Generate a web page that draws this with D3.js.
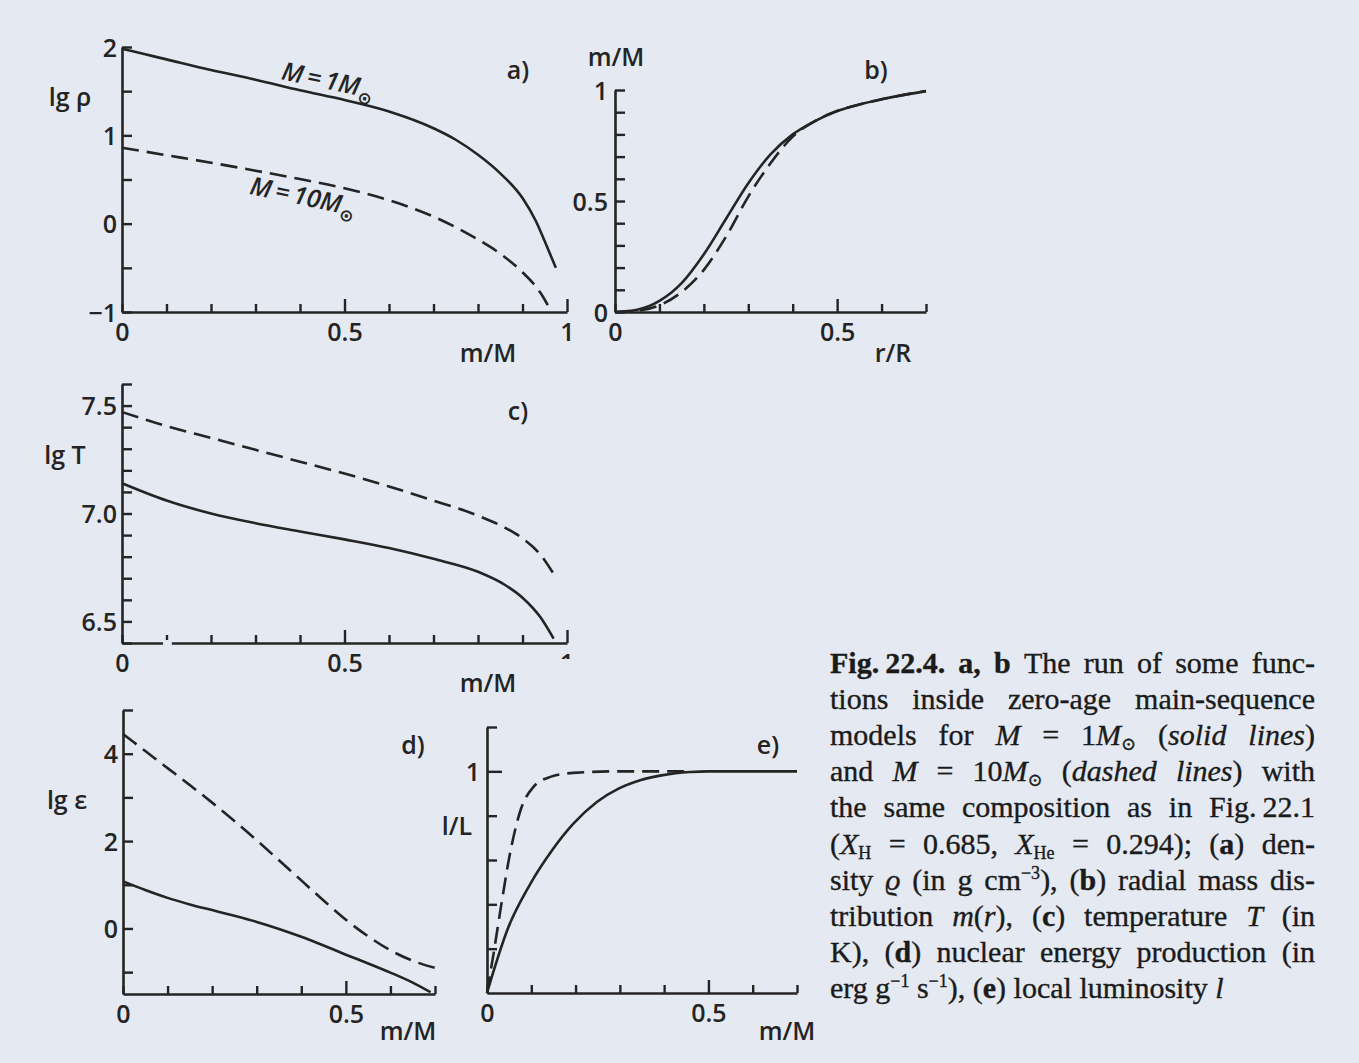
<!DOCTYPE html>
<html>
<head>
<meta charset="utf-8">
<script src="https://cdn.jsdelivr.net/npm/d3@7"></script>
<style>
  html, body { margin: 0; padding: 0; background: #e4e9f2; }
  svg { display: block; }
</style>
</head>
<body>
<svg id="fig" width="1359" height="1063"></svg>
<script>
// ---------- (a) density lg ρ against m/M ----------
const mRhoSun = [0, 0.05, 0.1, 0.2, 0.3, 0.4, 0.5, 0.6, 0.7, 0.75, 0.8, 0.85, 0.9, 0.93, 0.95, 0.975];
const lgRhoSun = [1.98, 1.92, 1.86, 1.74, 1.63, 1.51, 1.4, 1.27, 1.08, 0.95, 0.78, 0.57, 0.29, 0.03, -0.2, -0.5];
const mRhoTen = [0, 0.1, 0.2, 0.3, 0.4, 0.5, 0.6, 0.7, 0.8, 0.85, 0.9, 0.94, 0.965];
const lgRhoTen = [0.86, 0.775, 0.69, 0.6, 0.505, 0.4, 0.265, 0.08, -0.18, -0.34, -0.55, -0.78, -1.0];

// ---------- (b) m/M against r/R ----------
const rR = [0, 0.05, 0.1, 0.15, 0.2, 0.25, 0.3, 0.35, 0.4, 0.45, 0.5, 0.55, 0.6, 0.65, 0.7];
const mrSun = [0, 0.01, 0.05, 0.13, 0.26, 0.42, 0.58, 0.71, 0.8, 0.86, 0.905, 0.935, 0.958, 0.978, 0.995];
const mrTen = [0, 0.005, 0.03, 0.09, 0.19, 0.34, 0.52, 0.67, 0.79, 0.86, 0.905, 0.935, 0.958, 0.978, 0.995];

// ---------- (c) temperature lg T against m/M ----------
const mT = [0, 0.1, 0.2, 0.3, 0.4, 0.5, 0.6, 0.7, 0.8, 0.86, 0.9, 0.94, 0.97];
const lgTSun = [7.14, 7.06, 7.0, 6.955, 6.917, 6.88, 6.84, 6.79, 6.73, 6.67, 6.61, 6.52, 6.42];
const lgTTen = [7.47, 7.405, 7.35, 7.295, 7.24, 7.185, 7.125, 7.06, 6.99, 6.935, 6.885, 6.81, 6.72];

// ---------- (d) energy production lg ε against m/M ----------
const mEpsSun = [0, 0.05, 0.1, 0.15, 0.2, 0.25, 0.3, 0.35, 0.4, 0.45, 0.5, 0.55, 0.6, 0.65, 0.69];
const lgEpsSun = [1.08, 0.88, 0.7, 0.55, 0.42, 0.29, 0.15, -0.01, -0.19, -0.39, -0.6, -0.8, -1.01, -1.24, -1.46];
const mEpsTen = [0, 0.05, 0.1, 0.15, 0.2, 0.25, 0.3, 0.35, 0.4, 0.45, 0.5, 0.55, 0.6, 0.65, 0.7];
const lgEpsTen = [4.45, 4.06, 3.67, 3.28, 2.88, 2.46, 2.02, 1.56, 1.1, 0.64, 0.2, -0.18, -0.5, -0.74, -0.9];

// ---------- (e) local luminosity l/L against m/M ----------
const mLSun = [0, 0.015, 0.045, 0.096, 0.147, 0.195, 0.248, 0.297, 0.346, 0.397, 0.459, 0.5, 0.7];
const lLSun = [0, 0.1, 0.28, 0.486, 0.644, 0.764, 0.862, 0.922, 0.96, 0.983, 0.997, 1.0, 1.0];
const mLTen = [0, 0.015, 0.034, 0.053, 0.075, 0.105, 0.143, 0.195, 0.3, 0.45];
const lLTen = [0, 0.18, 0.42, 0.64, 0.82, 0.93, 0.975, 0.993, 1.0, 1.0];

// ---------- tick values and labels ----------
const ticksTenth = d3.range(0, 11).map(i => i / 10);
const ticksTenthShort = d3.range(0, 8).map(i => i / 10);
const rhoTicks = [-1, -0.5, 0, 0.5, 1, 1.5, 2];
const rhoLabels = [[-1, "−1"], [0, "0"], [1, "1"], [2, "2"]];
const mrTicks = d3.range(0, 11).map(i => i / 10);
const mrLabels = [[0, "0"], [0.5, "0.5"], [1, "1"]];
const tTicks = d3.range(64, 77).map(i => i / 10);
const tLabels = [[6.5, "6.5"], [7.0, "7.0"], [7.5, "7.5"]];
const epsTicks = [-1, 0, 1, 2, 3, 4, 5];
const epsLabels = [[0, "0"], [2, "2"], [4, "4"]];
const lumTicks = [0.2, 0.4, 0.6, 0.8, 1.0, 1.2];
const lumLabels = [[0, "0"], [1, "1"]];
const massLabelsFull = [[0, "0"], [0.5, "0.5"], [1, "1"]];
const massLabelsShort = [[0, "0"], [0.5, "0.5"]];

// ---------- caption ----------
const captionLines = [
  "{b:Fig.\u200922.4. a, b} The run of some func-",
  "tions inside zero-age main-sequence",
  "models for {i:M} = 1{i:M}{sub:⊙} ({i:solid lines})",
  "and {i:M} = 10{i:M}{sub:⊙} ({i:dashed lines}) with",
  "the same composition as in Fig.\u200922.1",
  "({i:X}{sub:H} = 0.685, {i:X}{sub:He} = 0.294); ({b:a}) den-",
  "sity {i:ϱ} (in g cm{sup:−3}), ({b:b}) radial mass dis-",
  "tribution {i:m}({i:r}), ({b:c}) temperature {i:T} (in",
  "K), ({b:d}) nuclear energy production (in",
  "erg g{sup:−1} s{sup:−1}), ({b:e}) local luminosity {i:l}"
];

// ---------- drawing ----------
const INK = "#242424";
const BG = "#e4e9f2";
const FONT = "'Open Sans', 'DejaVu Sans', sans-serif";
const SERIF = "'Liberation Serif', 'DejaVu Serif', serif";
const DASH = "17,8";

const svg = d3.select("#fig");
svg.append("rect").attr("width", 1359).attr("height", 1063).attr("fill", BG);
const defs = svg.append("defs");

const near = (a, b) => Math.abs(a - b) < 1e-9;
const lookup = (pairs, v) => { const p = pairs.find(q => near(q[0], v)); return p ? p[1] : ""; };

function drawAxes(g, x, y, cfg) {
  const xa = g.append("g").attr("transform", `translate(0,${y.range()[0]})`)
    .call(d3.axisBottom(x).tickValues(cfg.xTicks).tickSizeInner(-8).tickSizeOuter(0)
      .tickPadding(11).tickFormat(v => lookup(cfg.xLabels, v)));
  xa.selectAll(".tick line").filter(v => cfg.xMajor.some(m => near(m, v))).attr("y2", -13);

  const ya = g.append("g").attr("transform", `translate(${x.range()[0]},0)`)
    .call(d3.axisLeft(y).tickValues(cfg.yTicks).tickSizeInner(-10).tickSizeOuter(0)
      .tickPadding(cfg.yPad || 6).tickFormat(v => lookup(cfg.yLabels, v)));
  if (cfg.yMajor) ya.selectAll(".tick line").filter(v => cfg.yMajor.some(m => near(m, v))).attr("x2", 15);

  [xa, ya].forEach(a => {
    a.attr("color", INK).attr("font-family", null).attr("font-size", null);
    a.select(".domain").attr("stroke-width", 2.6);
    a.selectAll(".tick line").attr("stroke-width", 2.4);
    a.selectAll(".tick text").style("font-family", FONT).style("font-size", "25px")
      .style("font-weight", 600).attr("fill", INK);
  });
  ya.selectAll(".tick text").attr("dy", "0.36em");
  return { xa, ya };
}

function drawCurve(g, x, y, xs, ys, dashed) {
  const pts = xs.map((v, i) => [v, ys[i]]);
  g.append("path").datum(pts)
    .attr("d", d3.line().x(d => x(d[0])).y(d => y(d[1])).curve(d3.curveMonotoneX))
    .attr("fill", "none").attr("stroke", INK).attr("stroke-width", 2.6)
    .attr("stroke-dasharray", dashed ? DASH : null);
}

function label(g, px, py, txt, opts = {}) {
  return g.append("text").attr("x", px).attr("y", py).attr("dy", "0.36em")
    .attr("text-anchor", opts.anchor || "middle").attr("fill", INK)
    .style("font-family", FONT).style("font-size", (opts.size || 25) + "px").style("font-weight", 600)
    .text(txt);
}

function massLabel(g, cx, cy, angle, main) {
  const t = g.append("text").attr("transform", `translate(${cx},${cy}) rotate(${angle})`)
    .attr("text-anchor", "middle").attr("dy", "0.36em").attr("fill", INK)
    .style("font-family", FONT).style("font-size", "25px").style("font-weight", 600)
    .style("font-style", "italic");
  t.append("tspan").text(main);
  t.append("tspan").attr("dy", 7).style("font-size", "17px").style("font-style", "normal").text("⊙");
}

// (a)
{
  const g = svg.append("g");
  const x = d3.scaleLinear([0, 1], [122, 567]);
  const y = d3.scaleLinear([-1, 2], [312, 47]);
  drawAxes(g, x, y, { xTicks: ticksTenth, xLabels: massLabelsFull, xMajor: [0.5, 1],
    yTicks: rhoTicks, yLabels: rhoLabels, yPad: 5 });
  drawCurve(g, x, y, mRhoSun, lgRhoSun, false);
  drawCurve(g, x, y, mRhoTen, lgRhoTen, true);
  label(g, 70, 97, "lg ρ");
  label(g, 518, 70, "a)");
  label(g, 488, 353, "m/M");
  massLabel(g, 328, 80, 12, "M\u2009=\u20091M");
  massLabel(g, 303, 196, 12, "M\u2009=\u200910M");
}

// (b)
{
  const g = svg.append("g");
  const x = d3.scaleLinear([0, 0.7], [615, 926]);
  const y = d3.scaleLinear([0, 1], [312, 90]);
  drawAxes(g, x, y, { xTicks: ticksTenthShort, xLabels: massLabelsShort, xMajor: [0.5],
    yTicks: mrTicks, yLabels: mrLabels, yPad: 7 });
  drawCurve(g, x, y, rR, mrSun, false);
  drawCurve(g, x, y, rR, mrTen, true);
  label(g, 616, 57, "m/M");
  label(g, 876, 70, "b)");
  label(g, 893, 353, "r/R");
}

// (c)
{
  const g = svg.append("g");
  const x = d3.scaleLinear([0, 1], [122, 567]);
  const y = d3.scaleLinear([6.4, 7.6], [643, 384]);
  const ax = drawAxes(g, x, y, { xTicks: ticksTenth, xLabels: massLabelsFull, xMajor: [0.5, 1],
    yTicks: tTicks, yLabels: tLabels, yPad: 5 });
  // worn print: a short break in the baseline near m/M = 0.1 and a half-printed "1"
  g.append("rect").attr("x", x(0.092)).attr("y", y(6.4) - 3).attr("width", x(0.112) - x(0.092))
    .attr("height", 7).attr("fill", BG);
  defs.append("clipPath").attr("id", "clipOne")
    .append("rect").attr("x", x(1) - 10).attr("y", 648).attr("width", 20).attr("height", 11);
  ax.xa.selectAll(".tick text").filter(v => near(v, 1)).remove();
  label(g, x(1), 663, "1").attr("clip-path", "url(#clipOne)");
  drawCurve(g, x, y, mT, lgTSun, false);
  drawCurve(g, x, y, mT, lgTTen, true);
  label(g, 65, 455, "lg T");
  label(g, 518, 411, "c)");
  label(g, 488, 683, "m/M");
}

// (d)
{
  const g = svg.append("g");
  const x = d3.scaleLinear([0, 0.7], [123, 435]);
  const y = d3.scaleLinear([-1.5, 5], [994, 710]);
  drawAxes(g, x, y, { xTicks: ticksTenthShort, xLabels: massLabelsShort, xMajor: [0.5],
    yTicks: epsTicks, yLabels: epsLabels, yPad: 5 });
  drawCurve(g, x, y, mEpsSun, lgEpsSun, false);
  drawCurve(g, x, y, mEpsTen, lgEpsTen, true);
  label(g, 67, 800, "lg ε");
  label(g, 413, 745, "d)");
  label(g, 408, 1031, "m/M");
}

// (e)
{
  const g = svg.append("g");
  const x = d3.scaleLinear([0, 0.7], [487, 797]);
  const y = d3.scaleLinear([0, 1.2], [993, 727]);
  drawAxes(g, x, y, { xTicks: ticksTenthShort, xLabels: massLabelsShort, xMajor: [0.5],
    yTicks: lumTicks, yLabels: lumLabels, yMajor: [1], yPad: 7 });
  drawCurve(g, x, y, mLSun, lLSun, false);
  drawCurve(g, x, y, mLTen, lLTen, true);
  label(g, 457, 826, "l/L");
  label(g, 768, 745, "e)");
  label(g, 787, 1031, "m/M");
}

// ---------- caption, set justified ----------
function parseRuns(line) {
  const runs = []; const re = /\{(i|b|sub|sup):([^}]*)\}/g; let last = 0, m;
  while ((m = re.exec(line))) {
    if (m.index > last) runs.push({ t: line.slice(last, m.index), s: "" });
    runs.push({ t: m[2], s: m[1] });
    last = re.lastIndex;
  }
  if (last < line.length) runs.push({ t: line.slice(last), s: "" });
  return runs;
}
function toWords(runs) {
  const words = []; let cur = [];
  runs.forEach(r => {
    r.t.split(" ").forEach((p, k) => {
      if (k > 0) { if (cur.length) words.push(cur); cur = []; }
      if (p) cur.push({ t: p, s: r.s });
    });
  });
  if (cur.length) words.push(cur);
  return words;
}

const capLeft = 830, capRight = 1315, capTop = 673, capLead = 36.1, capSize = 30;
const cap = svg.append("g").attr("fill", "#1b1b1b").attr("stroke", "#1b1b1b").attr("stroke-width", 0.35)
  .style("font-family", SERIF).style("font-size", capSize + "px");

captionLines.forEach((line, li) => {
  const words = toWords(parseRuns(line));
  const base = capTop + li * capLead;
  const nodes = words.map(w => {
    const t = cap.append("text").attr("y", base);
    let shift = 0;
    w.forEach(piece => {
      const sp = t.append("tspan").text(piece.t);
      let target = 0;
      if (piece.s === "i") sp.style("font-style", "italic");
      if (piece.s === "b") sp.style("font-weight", "bold");
      if (piece.s === "sub") { target = 5; sp.style("font-size", "18px"); }
      if (piece.s === "sup") { target = -11; sp.style("font-size", "18px"); }
      if (target !== shift) { sp.attr("dy", target - shift); shift = target; }
    });
    return t;
  });
  const widths = nodes.map(n => n.node().getComputedTextLength());
  const total = d3.sum(widths);
  const last = li === captionLines.length - 1;
  const gap = (last || nodes.length < 2) ? capSize * 0.25 : (capRight - capLeft - total) / (nodes.length - 1);
  let cx = capLeft;
  nodes.forEach((n, i) => { n.attr("x", cx); cx += widths[i] + gap; });
});
</script>
</body>
</html>
